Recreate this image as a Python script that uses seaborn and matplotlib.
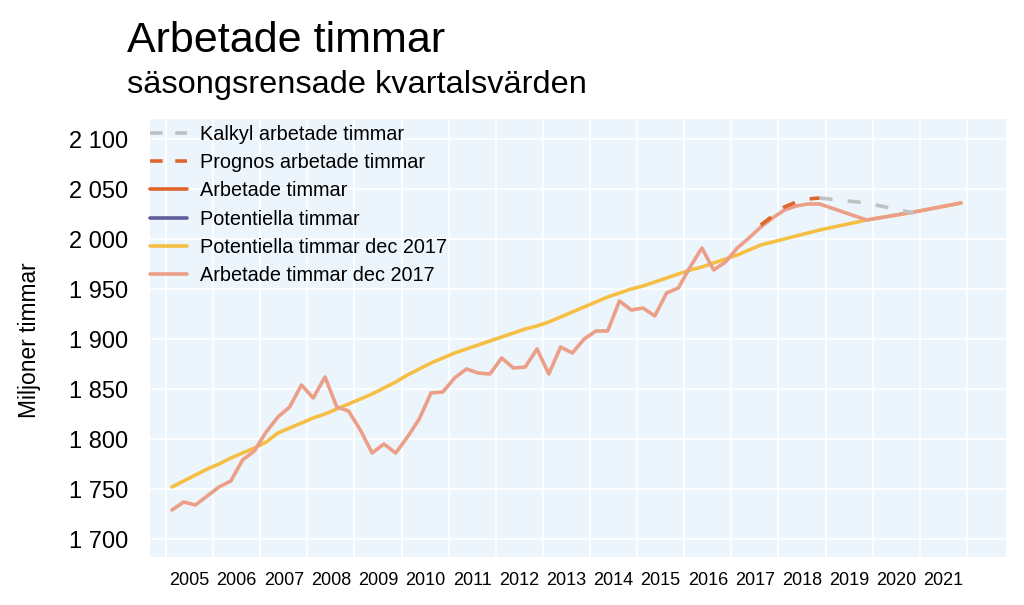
import matplotlib
matplotlib.use("Agg")
import matplotlib.pyplot as plt
import seaborn as sns
import pandas as pd
import numpy as np
from matplotlib.ticker import FixedLocator, FuncFormatter
from matplotlib.lines import Line2D

# ---------------- data ----------------
quarters = [f"{y}K{q}" for y in range(2005, 2019) for q in range(1, 5)] + ["2019K4", "2020K4", "2021K4"]

arbetade_dec2017 = [
    1729, 1737, 1734, 1743,
    1752, 1758, 1779, 1788,
    1807, 1822, 1832, 1854,
    1841, 1862, 1832, 1828,
    1809, 1786, 1795, 1786,
    1802, 1820, 1846, 1847,
    1861, 1870, 1866, 1865,
    1881, 1871, 1872, 1890,
    1865, 1892, 1886, 1900,
    1908, 1908, 1938, 1929,
    1931, 1923, 1946, 1951,
    1972, 1991, 1969, 1977,
    1991, 2001, 2012, 2021,
    2029, 2033, 2035, 2035,
    2019, 2027, 2036,
]

potentiella_dec2017 = [
    1752, 1758, 1764, 1770,
    1775, 1781, 1786, 1791,
    1797, 1806, 1811, 1816,
    1821, 1825, 1830, 1835,
    1840, 1845, 1851, 1857,
    1864, 1870, 1876, 1881,
    1886, 1890, 1894, 1898,
    1902, 1906, 1910, 1913,
    1917, 1922, 1927, 1932,
    1937, 1942, 1946, 1950,
    1953, 1957, 1961, 1965,
    1969, 1972, 1976, 1980,
    1984, 1989, 1994, 1997,
    2000, 2003, 2006, 2009,
    2019, 2027, 2036,
]

prognos_q = ["2017K3", "2017K4", "2018K1", "2018K2", "2018K3", "2018K4"]
prognos = [2014, 2023, 2032, 2037, 2040, 2041]

kalkyl_q = ["2018K4", "2019K4", "2020K4"]
kalkyl = [2041, 2036, 2026]

years = list(range(2005, 2022))
yticks = [1700, 1750, 1800, 1850, 1900, 1950, 2000, 2050, 2100]

labels = {
    "kalkyl": "Kalkyl arbetade timmar",
    "prognos": "Prognos arbetade timmar",
    "arb": "Arbetade timmar",
    "pot": "Potentiella timmar",
    "pot17": "Potentiella timmar dec 2017",
    "arb17": "Arbetade timmar dec 2017",
}


def qpos(label):
    y, q = label.split("K")
    return int(y) + (int(q) - 0.5) / 4.0


# ---------------- style ----------------
sns.set_theme(style="whitegrid", rc={
    "axes.facecolor": "#EDF5FC",
    "figure.facecolor": "white",
    "grid.color": "white",
    "grid.linewidth": 1.2,
    "axes.edgecolor": "#EDF5FC",
    "text.color": "black",
    "axes.labelcolor": "black",
    "xtick.color": "black",
    "ytick.color": "black",
})
plt.rcParams["font.family"] = ["Liberation Sans", "DejaVu Sans"]

C_GRAY = "#BEC2C2"
C_ORANGE = "#E0652D"
C_PURPLE = "#5F5C98"
C_YELLOW = "#F5BF45"
C_SALMON = "#EB9F88"

fig = plt.figure(figsize=(10.24, 6.05), dpi=100)
ax = fig.add_axes([150 / 1024, 1 - 557 / 605, (1006 - 150) / 1024, (557 - 119) / 605])

df_main = pd.DataFrame({
    "t": [qpos(q) for q in quarters],
    "arb17": arbetade_dec2017,
    "pot17": potentiella_dec2017,
})
df_prog = pd.DataFrame({"t": [qpos(q) for q in prognos_q], "v": prognos})
df_kalk = pd.DataFrame({"t": [qpos(q) for q in kalkyl_q], "v": kalkyl})

lw = 2.6
dash = (3.6, 4.2)
sns.lineplot(data=df_main, x="t", y="pot17", ax=ax, color=C_YELLOW, lw=lw, zorder=3, legend=False)
sns.lineplot(data=df_main, x="t", y="arb17", ax=ax, color=C_SALMON, lw=lw, zorder=4, legend=False)
sns.lineplot(data=df_prog, x="t", y="v", ax=ax, color=C_ORANGE, lw=lw, zorder=5, legend=False)
ax.lines[-1].set_dashes(dash)
sns.lineplot(data=df_kalk, x="t", y="v", ax=ax, color=C_GRAY, lw=lw, zorder=5, legend=False)
ax.lines[-1].set_dashes(dash)

# axes
ax.set_xlim(2004.66, 2022.83)
ax.set_ylim(1682, 2120)
ax.xaxis.set_major_locator(FixedLocator([y + 0.5 for y in years]))
ax.set_xticklabels([str(y) for y in years])
ax.xaxis.set_minor_locator(FixedLocator(list(range(2005, 2023))))
ax.grid(False, axis="x", which="major")
ax.grid(True, axis="x", which="minor", color="white", lw=1.2)
ax.grid(True, axis="y", which="major", color="white", lw=1.2)
ax.yaxis.set_major_locator(FixedLocator(yticks))
ax.yaxis.set_major_formatter(FuncFormatter(lambda v, p: f"{int(v):,}".replace(",", " ")))
ax.tick_params(axis="both", which="both", length=0, colors="black")
ax.tick_params(axis="x", labelsize=13, pad=11)
ax.tick_params(axis="y", labelsize=17, pad=16)
ax.set_xlabel("")
ax.set_ylabel("")
for s in ax.spines.values():
    s.set_visible(False)

fig.text(30 / 1024, 1 - 340 / 605, "Miljoner timmar", rotation=90, fontsize=16.4,
         ha="center", va="center")

fig.text(127 / 1024, 1 - 52 / 605, "Arbetade timmar", fontsize=31, ha="left", va="baseline")
fig.text(127 / 1024, 1 - 93 / 605, "säsongsrensade kvartalsvärden", fontsize=23.4,
         ha="left", va="baseline")

handles = [
    Line2D([], [], color=C_GRAY, lw=lw, dashes=(3.5, 3.5)),
    Line2D([], [], color=C_ORANGE, lw=lw, dashes=(3.5, 3.5)),
    Line2D([], [], color=C_ORANGE, lw=lw),
    Line2D([], [], color=C_PURPLE, lw=lw),
    Line2D([], [], color=C_YELLOW, lw=lw),
    Line2D([], [], color=C_SALMON, lw=lw),
]
leg = ax.legend(handles, [labels[k] for k in ["kalkyl", "prognos", "arb", "pot", "pot17", "arb17"]],
                loc="upper left", bbox_to_anchor=(142 / 1024, 1 - 116.6 / 605),
                bbox_transform=fig.transFigure, frameon=False, fontsize=14.3,
                handlelength=1.85, handletextpad=0.65, labelspacing=0.47, borderaxespad=0)

fig.savefig("out.png", dpi=100)
